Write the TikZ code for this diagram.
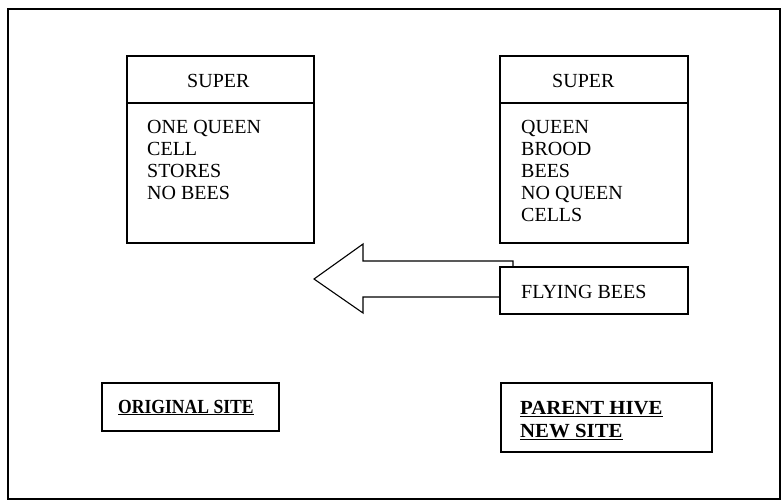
\documentclass[tikz,border=0pt]{standalone}
\usepackage{fontspec}
\usepackage{graphicx}
\setmainfont{Liberation Serif}
\begin{document}
\begin{tikzpicture}[x=1pt,y=-1pt,
  boxline/.style={draw=black,line width=1.6pt},
  txt/.style={anchor=base west,inner sep=0pt,font=\fontsize{20}{22}\selectfont},
  lbl/.style={anchor=base west,inner sep=0pt,font=\fontsize{20}{23}\selectfont\bfseries},
  bigarrow/.style={draw=black,line width=1.1pt,fill=white,line join=miter}]
\useasboundingbox (0,0) rectangle (782,501);
% outer frame
\draw[boxline] (8,9) rectangle (780,499);

% left super
\draw[boxline] (127,56) rectangle (314,243);
\draw[boxline] (127,103) -- (314,103);
\node[txt] (supL) at (187,87) {SUPER};
\node[txt] (listL) at (147,133) {\begin{tabular}[t]{@{}l@{}}ONE QUEEN\\CELL\\STORES\\NO BEES\end{tabular}};

% right super
\draw[boxline] (500,56) rectangle (688,243);
\draw[boxline] (500,103) -- (688,103);
\node[txt] (supR) at (552,87) {SUPER};
\node[txt] (listR) at (521,133) {\begin{tabular}[t]{@{}l@{}}QUEEN\\BROOD\\BEES\\NO QUEEN\\CELLS\end{tabular}};

% block arrow towards the original site
\draw[bigarrow] (513,297) -- (363,297) -- (363,313) -- (314,279) -- (363,244) -- (363,261) -- (513,261) -- cycle;

% flying bees box, over the arrow's tail
\draw[boxline,fill=white] (500,267) rectangle (688,314);
\node[txt] (fly) at (521,298) {FLYING BEES};

% site labels
\draw[boxline] (102,383) rectangle (279,431);
\node[lbl] (orig) at (118,413) {\scalebox{0.88}[1]{\underline{ORIGINAL SITE}}};
\draw[boxline] (501,383) rectangle (712,452);
\node[lbl] (parent) at (520,414) {\scalebox{1.04}[1]{\begin{tabular}[t]{@{}l@{}}\underline{PARENT HIVE}\\\underline{NEW SITE}\end{tabular}}};
\end{tikzpicture}
\end{document}
